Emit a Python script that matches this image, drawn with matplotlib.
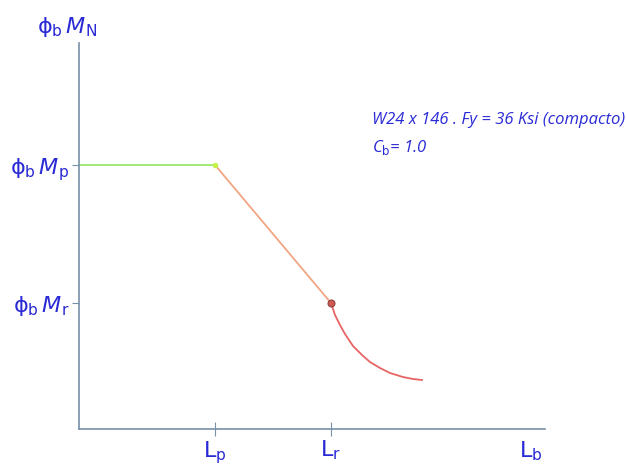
import matplotlib
matplotlib.use('Agg')
import matplotlib.pyplot as plt
import numpy as np

plt.rcParams['mathtext.fontset'] = 'dejavusans'

# key points of the design curve (arbitrary units)
Lp = 1.36
Lr = 2.52
Lmax = 4.66
Mp = 2.64
Mr = 1.26
Mtop = 3.86

# inelastic range: straight line Lp -> Lr
inel_x = [Lp, Lr]
inel_y = [Mp, Mr]

# elastic range: curve after Lr
elas_x = [2.52, 2.56, 2.61, 2.66, 2.74, 2.83, 2.91, 3.01, 3.11, 3.24, 3.34, 3.43]
elas_y = [1.26, 1.14, 1.04, 0.95, 0.83, 0.74, 0.67, 0.61, 0.56, 0.52, 0.50, 0.49]

blue = '#2a2ad6'

fig = plt.figure(figsize=(6.26, 4.65), dpi=100)
ax = fig.add_axes([79/626, 36/465, 466/626, 386/465])

ax.plot([0, Lp], [Mp, Mp], color='#9be86a', lw=1.3)
ax.plot(inel_x, inel_y, color='#f2a582', lw=1.3)
ax.plot(elas_x, elas_y, color='#e86464', lw=1.3, solid_joinstyle='round')
ax.plot([Lp], [Mp], 'o', ms=3, color='#c8f04a')
ax.plot([Lr], [Mr], 'o', ms=5, mfc='#d05a50', mec='#904040', mew=0.8)

ax.set_xlim(0, Lmax)
ax.set_ylim(0, Mtop)
for s in ['top', 'right']:
    ax.spines[s].set_visible(False)
for s in ['left', 'bottom']:
    ax.spines[s].set_color('#7890a8')
    ax.spines[s].set_linewidth(1.2)

ax.set_xticks([Lp, Lr])
ax.set_xticklabels([r'$\mathrm{L}_\mathrm{p}$', r'$\mathrm{L}_\mathrm{r}$'],
                   fontsize=16, color=blue)
ax.set_yticks([Mr, Mp])
ax.set_yticklabels(['ϕ' + r'$_{\rm b}\,M_{\rm r}$', 'ϕ' + r'$_{\rm b}\,M_{\rm p}$'],
                   fontsize=16, color=blue)
ax.tick_params(axis='x', direction='inout', length=10, color='#7890a8', pad=2)
ax.tick_params(axis='y', direction='out', length=5, color='#7890a8', pad=2)

ax.text(Lmax * 0.97, -0.1, r'$\mathrm{L}_\mathrm{b}$', fontsize=16, color=blue,
        ha='center', va='top')
fig.text(37/626, 1 - 27/465, 'ϕ' + r'$_{\rm b}\,M_{\rm N}$', fontsize=16,
         color=blue, ha='left', va='center')

ax.text(2.93, 3.05, 'W24 x 146 . Fy = 36 Ksi (compacto)', fontsize=12,
        style='italic', color=blue, family='Open Sans')
ax.text(2.93, 2.77, r'C$_{\rm b}$= 1.0', fontsize=12,
        style='italic', color=blue, family='Open Sans')

fig.savefig('out.png', dpi=100)
